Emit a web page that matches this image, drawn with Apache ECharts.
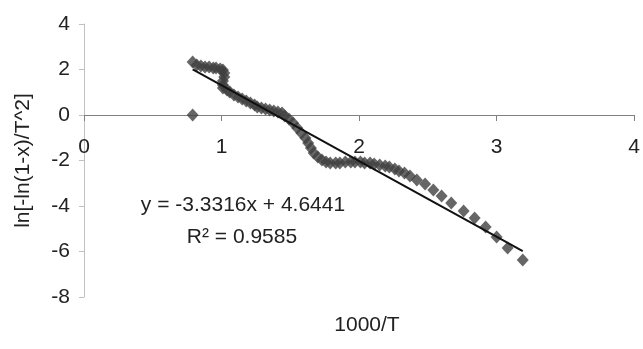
<!DOCTYPE html>
<html>
<head>
<meta charset="utf-8">
<script src="https://cdn.jsdelivr.net/npm/echarts@6/dist/echarts.min.js"></script>
<style>
html,body{margin:0;padding:0;background:#fff;}
#chart{width:643px;height:349px;}
</style>
</head>
<body>
<div id="chart"></div>
<script>
// 1000/T values (x) and ln[-ln(1-x)/T^2] values (y)
const xValues = [0.79, 0.79, 0.82, 0.85, 0.88, 0.91, 0.94, 0.96, 0.99, 1.01,
  1.02, 1.02, 1.01, 1.01, 1.01, 1.04, 1.06, 1.09, 1.12, 1.15,
  1.18, 1.21, 1.24, 1.26, 1.29, 1.32, 1.35, 1.38, 1.41, 1.44,
  1.46, 1.49, 1.52, 1.55, 1.58, 1.61, 1.63, 1.65, 1.67, 1.70,
  1.73, 1.76, 1.79, 1.83, 1.86, 1.90, 1.94, 1.97, 2.01, 2.04,
  2.08, 2.11, 2.15, 2.19, 2.22, 2.26, 2.29, 2.33, 2.37, 2.42,
  2.48, 2.54, 2.60, 2.67, 2.76, 2.84, 2.92, 3.00, 3.08, 3.19];
const yValues = [0.00, 2.33, 2.20, 2.15, 2.11, 2.11, 2.07, 2.07, 2.02, 1.98,
  1.85, 1.67, 1.49, 1.32, 1.19, 1.10, 1.01, 0.88, 0.79, 0.70,
  0.62, 0.53, 0.44, 0.35, 0.31, 0.26, 0.22, 0.18, 0.13, 0.09,
  -0.04, -0.18, -0.35, -0.57, -0.79, -1.01, -1.23, -1.45, -1.67, -1.85,
  -1.98, -2.07, -2.11, -2.11, -2.11, -2.07, -2.07, -2.07, -2.07, -2.11,
  -2.11, -2.15, -2.20, -2.24, -2.29, -2.37, -2.46, -2.55, -2.68, -2.86,
  -3.03, -3.30, -3.56, -3.87, -4.22, -4.53, -4.92, -5.36, -5.85, -6.37];
// linear trendline endpoints (x, y)
const trendX = [0.79, 3.19];
const trendY = [2.01, -5.98];
const equationText = 'y = -3.3316x + 4.6441';
const r2Text = 'R\u00B2 = 0.9585';
const xTitle = '1000/T';
const yTitle = 'ln[-ln(1-x)/T^2]';

const FONT = 'Liberation Sans, Arial, sans-serif';
const GRID_TOP = 24, GRID_BOTTOM = 52, Y_MIN = -8, Y_MAX = 4;
const plotH = 349 - GRID_TOP - GRID_BOTTOM;
// shift the x axis (line, ticks, labels) up to y = 0
const zeroOffset = -plotH * (0 - Y_MIN) / (Y_MAX - Y_MIN);

const chart = echarts.init(document.getElementById('chart'), null, {renderer: 'canvas'});
const points = xValues.map((x, i) => [x, yValues[i]]);
const trend = trendX.map((x, i) => [x, trendY[i]]);

chart.setOption({
  animation: false,
  backgroundColor: '#ffffff',
  grid: {left: 84, right: 0, top: GRID_TOP, bottom: GRID_BOTTOM, containLabel: false},
  xAxis: {
    type: 'value', min: 0, max: 4, interval: 1,
    position: 'bottom', offset: zeroOffset,
    axisLine: {show: true, onZero: false, lineStyle: {color: '#808080', width: 1}},
    axisTick: {show: true, inside: false, length: 6, lineStyle: {color: '#808080'}},
    axisLabel: {color: '#222', fontSize: 21, fontFamily: FONT, margin: 22},
    splitLine: {show: false}
  },
  yAxis: {
    type: 'value', min: Y_MIN, max: Y_MAX, interval: 2,
    name: yTitle, nameLocation: 'middle', nameGap: 50,
    nameTextStyle: {color: '#222', fontSize: 21, fontFamily: FONT},
    axisLine: {show: true, lineStyle: {color: '#c0c0c0', width: 1}},
    axisTick: {show: true, length: 5, lineStyle: {color: '#c0c0c0'}},
    axisLabel: {color: '#222', fontSize: 21, fontFamily: FONT, margin: 14},
    splitLine: {show: false}
  },
  series: [
    {
      type: 'scatter', data: points, symbol: 'diamond', symbolSize: [12, 13],
      itemStyle: {color: '#404040'}, z: 2
    },
    {
      type: 'line', data: trend, symbol: 'none',
      lineStyle: {color: '#111111', width: 2}, z: 3
    }
  ],
  graphic: [
    {type: 'text', x: 243, y: 205, style: {text: equationText, font: '21px ' + FONT, fill: '#222', align: 'center', verticalAlign: 'middle'}},
    {type: 'text', x: 242, y: 237, style: {text: r2Text, font: '21px ' + FONT, fill: '#222', align: 'center', verticalAlign: 'middle'}},
    {type: 'text', x: 367, y: 325, style: {text: xTitle, font: '21px ' + FONT, fill: '#222', align: 'center', verticalAlign: 'middle'}}
  ]
});
</script>
</body>
</html>
